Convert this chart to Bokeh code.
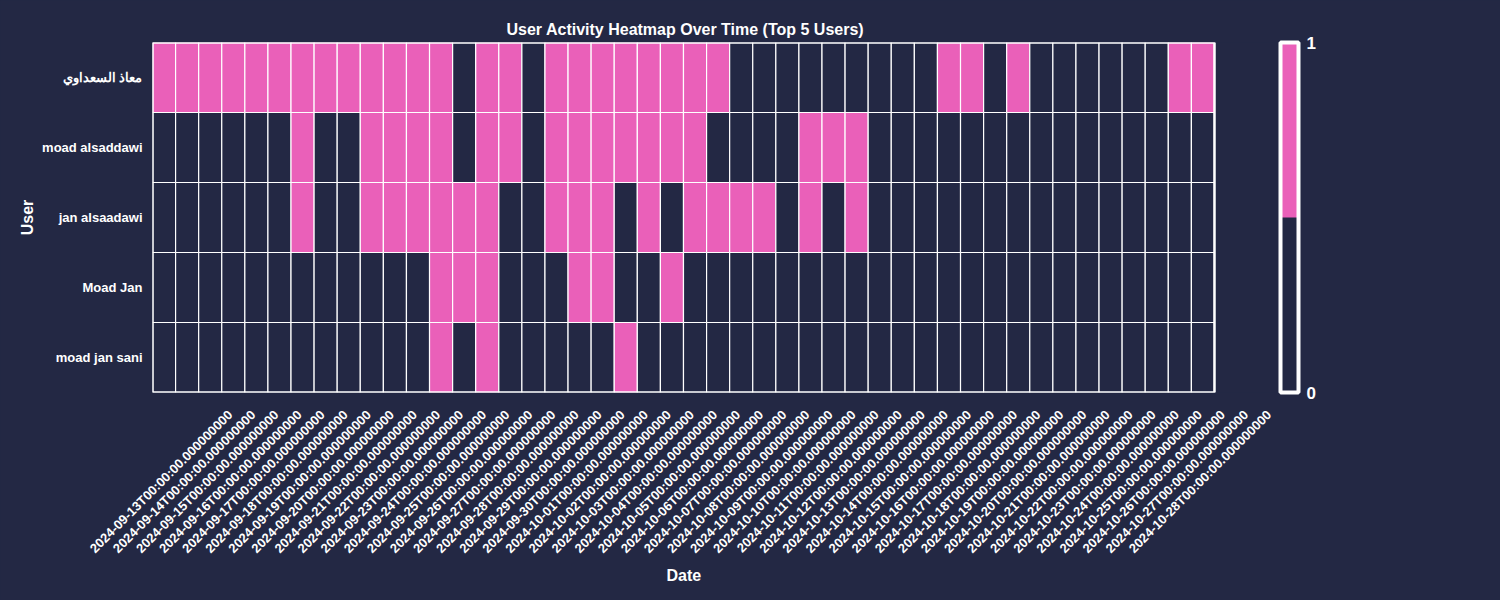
import pandas as pd
from bokeh.plotting import figure
from bokeh.models import (ColumnDataSource, FactorRange, Range1d, LinearAxis,
                          FixedTicker, LinearColorMapper, ColorBar, Title)
from bokeh.embed import file_html
from bokeh.resources import INLINE

# ---------------- data ----------------
dates = pd.date_range("2024-09-13", "2024-10-28", freq="D").strftime("%Y-%m-%d").tolist()
date_tick_labels = [d + "T00:00:00.000000000" for d in dates]

users = ["معاذ السعداوي", "moad alsaddawi", "jan alsaadawi", "Moad Jan", "moad jan sani"]

act_user1 = [1,1,1,1,1,1,1,1,1,1,1,1,1,0,1,1,0,1,1,1,1,1,1,1,1,0,0,0,0,0,0,0,0,0,1,1,0,1,0,0,0,0,0,0,1,1]
act_user2 = [0,0,0,0,0,0,1,0,0,1,1,1,1,0,1,1,0,1,1,1,1,1,1,1,0,0,0,0,1,1,1,0,0,0,0,0,0,0,0,0,0,0,0,0,0,0]
act_user3 = [0,0,0,0,0,0,1,0,0,1,1,1,1,1,1,0,0,1,1,1,0,1,0,1,1,1,1,0,1,0,1,0,0,0,0,0,0,0,0,0,0,0,0,0,0,0]
act_user4 = [0,0,0,0,0,0,0,0,0,0,0,0,1,1,1,0,0,0,1,1,0,0,1,0,0,0,0,0,0,0,0,0,0,0,0,0,0,0,0,0,0,0,0,0,0,0]
act_user5 = [0,0,0,0,0,0,0,0,0,0,0,0,1,0,1,0,0,0,0,0,1,0,0,0,0,0,0,0,0,0,0,0,0,0,0,0,0,0,0,0,0,0,0,0,0,0]
activity = [act_user1, act_user2, act_user3, act_user4, act_user5]

# ---------------- styling ----------------
BG = "#232844"
PINK = "#EA60B9"
WHITE = "#FFFFFF"
FONT = "Liberation Sans"

n_days = len(dates)
n_users = len(users)

xs, ys, vs = [], [], []
for u, row in zip(users, activity):
    for i, v in enumerate(row):
        xs.append(i + 0.5); ys.append(u); vs.append(v)
src = ColumnDataSource(dict(day=xs, user=ys, v=vs))

mapper = LinearColorMapper(palette=[BG, PINK], low=0, high=1)

# room to the right of the heatmap (inside the frame) so the rotated date
# labels of the last columns can be drawn like in the reference
right_pad = 2.86
p = figure(width=1500, height=600, output_backend="svg", toolbar_location=None,
           x_range=Range1d(0, n_days + right_pad), y_range=FactorRange(factors=users[::-1]),
           x_axis_location=None,
           title="User Activity Heatmap Over Time (Top 5 Users)")
p.styles = {"background-color": BG}
p.background_fill_color = BG
p.border_fill_color = BG
p.outline_line_color = None
p.grid.visible = False
p.min_border_left = 152
p.min_border_right = 220
p.min_border_top = 42
p.min_border_bottom = 208

p.rect(x="day", y="user", width=1, height=1, source=src,
       fill_color={"field": "v", "transform": mapper},
       line_color=WHITE, line_width=1.2)
# heatmap border
p.quad(left=[0], right=[n_days], bottom=[0], top=[n_users],
       fill_color=None, line_color=WHITE, line_width=2.5)

# title
p.title.align = "left"
p.title.offset = 354
p.title.text_color = WHITE
p.title.text_font = FONT
p.title.text_font_size = "16px"
p.title.text_font_style = "bold"

# y axis
ya = p.yaxis[0]
ya.axis_label = "User"
ya.axis_label_text_color = WHITE
ya.axis_label_text_font = FONT
ya.axis_label_text_font_size = "16px"
ya.axis_label_text_font_style = "bold"
ya.major_label_text_color = WHITE
ya.major_label_text_font = FONT
ya.major_label_text_font_size = "13px"
ya.major_label_text_font_style = "bold"
ya.major_tick_line_color = None
ya.axis_line_color = None
ya.major_label_standoff = 4
ya.axis_label_standoff = 3

# x axis (date labels, centred on each column like the reference)
shift = 2.86
p.extra_x_ranges = {"dates": Range1d(start=-shift, end=n_days + right_pad - shift)}
tick_pos = [i + 0.5 for i in range(n_days)]
xa = LinearAxis(x_range_name="dates", ticker=FixedTicker(ticks=tick_pos))
xa.major_label_overrides = {t: lab for t, lab in zip(tick_pos, date_tick_labels)}
xa.major_label_orientation = 0.7853981634
xa.major_label_text_color = WHITE
xa.major_label_text_font = FONT
xa.major_label_text_font_size = "13px"
xa.major_label_text_font_style = "bold"
xa.major_tick_line_color = None
xa.minor_tick_line_color = None
xa.axis_line_color = None
xa.major_label_standoff = 14
p.add_layout(xa, "below")

# "Date" axis title, centred under the heatmap itself
date_title = Title(text="Date", align="left", offset=514, text_color=WHITE,
                   text_font=FONT, text_font_size="16px", text_font_style="bold",
                   standoff=0)
p.add_layout(date_title, "below")

# colour bar
cb = ColorBar(color_mapper=mapper, ticker=FixedTicker(ticks=[0, 1]),
              width=18, height=350, margin=0, padding=0,
              bar_line_color=WHITE, bar_line_width=4,
              background_fill_color=None, border_line_color=None,
              major_tick_line_color=None, minor_tick_line_color=None,
              major_label_text_color=WHITE, major_label_text_font=FONT,
              major_label_text_font_size="17px", major_label_text_font_style="bold",
              label_standoff=8, location=(0, 0))
p.add_layout(cb, "right")

open("out.html", "w").write(file_html(p, INLINE))
